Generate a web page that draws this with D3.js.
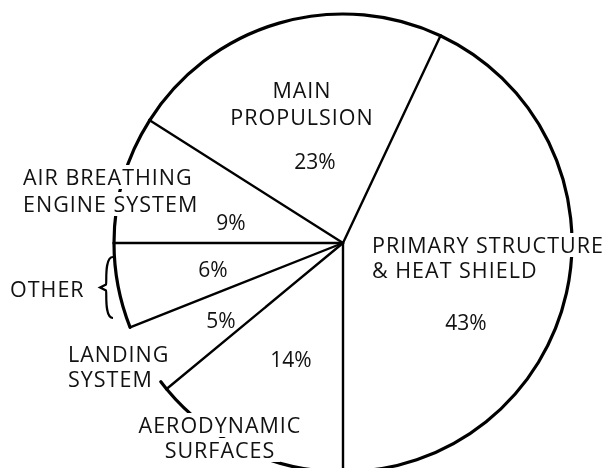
<!DOCTYPE html>
<html>
<head>
<meta charset="utf-8">
<script src="https://cdn.jsdelivr.net/npm/d3@7"></script>
<style>
  html, body { margin: 0; padding: 0; background: #fff; }
  svg { display: block; }
  text { font-family: "Open Sans", sans-serif; fill: #111; }
</style>
</head>
<body>
<div id="chart"></div>
<script>
// shares of the vehicle, going clockwise from the bottom of the pie
var categories = ["Aerodynamic Surfaces", "Landing System", "Other",
    "Air Breathing Engine System", "Main Propulsion", "Primary Structure & Heat Shield"];
var percents = [14, 5, 6, 9, 23, 43];
var nameLines = [
    ["AERODYNAMIC", "SURFACES"],
    ["LANDING", "SYSTEM"],
    ["OTHER"],
    ["AIR BREATHING", "ENGINE SYSTEM"],
    ["MAIN", "PROPULSION"],
    ["PRIMARY STRUCTURE", "& HEAT SHIELD"]
];

function init() {
    var w = 607;
    var h = 468;
    var cx = 343, cy = 243, r = 229;

    // where each label sits (hand placed like the original drawing)
    var nameLayout = [
        { x: 220, y: 433, anchor: "middle", lh: 25 },
        { x: 68, y: 362, anchor: "start", lh: 25 },
        { x: 10, y: 297, anchor: "start", lh: 25 },
        { x: 23, y: 185, anchor: "start", lh: 27 },
        { x: 302, y: 98, anchor: "middle", lh: 27 },
        { x: 372, y: 253, anchor: "start", lh: 25 }
    ];
    var pctLayout = [
        { x: 291, y: 367 }, { x: 221, y: 328 }, { x: 213, y: 277 },
        { x: 231, y: 230 }, { x: 315, y: 169 }, { x: 466, y: 330 }
    ];

    var pie = d3.pie()
        .sort(null)
        .value(function(d) { return d; })
        .startAngle(Math.PI)
        .endAngle(3 * Math.PI);
    var slices = pie(percents);

    var svg = d3.select("#chart")
        .append("svg")
        .attr("width", w)
        .attr("height", h);

    var mask = svg.append("defs").append("mask").attr("id", "gaps")
        .attr("maskUnits", "userSpaceOnUse")
        .attr("x", 0).attr("y", 0).attr("width", w).attr("height", h);
    mask.append("rect").attr("width", w).attr("height", h).attr("fill", "#fff");

    // outer rim, one arc per slice; the landing system rim is left open
    // in the original apart from a short stub at its lower edge
    var rimData = slices.map(function(d, i) {
        if (i === 1) return { startAngle: d.startAngle, endAngle: d.startAngle + 0.04 };
        return d;
    });
    var rim = d3.arc().innerRadius(r).outerRadius(r);
    svg.append("g")
        .attr("mask", "url(#gaps)")
        .selectAll("path")
        .data(rimData)
        .enter()
        .append("path")
        .attr("transform", "translate(" + cx + "," + cy + ")")
        .attr("d", rim)
        .attr("fill", "none")
        .attr("stroke", "#000")
        .attr("stroke-width", 3.2)
        .attr("stroke-linejoin", "round");

    var pieG = svg.append("g").attr("transform", "translate(" + cx + "," + cy + ")");

    // radial dividers
    pieG.selectAll("line.div")
        .data(slices)
        .enter()
        .append("line")
        .attr("class", "div")
        .attr("x1", 0).attr("y1", 0)
        .attr("x2", function(d) { return d3.pointRadial(d.startAngle, r)[0]; })
        .attr("y2", function(d) { return d3.pointRadial(d.startAngle, r)[1]; })
        .attr("stroke", "#000")
        .attr("stroke-width", 2.4)
        .attr("stroke-linecap", "round");

    // names, one text per line
    var lines = [];
    nameLines.forEach(function(ls, i) {
        ls.forEach(function(t, j) {
            lines.push({ t: t, x: nameLayout[i].x, y: nameLayout[i].y + j * nameLayout[i].lh, anchor: nameLayout[i].anchor });
        });
    });
    var names = svg.selectAll("text.name")
        .data(lines)
        .enter()
        .append("text")
        .attr("class", "name")
        .attr("x", function(d) { return d.x; })
        .attr("y", function(d) { return d.y; })
        .attr("text-anchor", function(d) { return d.anchor; })
        .style("font-size", "21.5px")
        .style("letter-spacing", "1px")
        .text(function(d) { return d.t; });

    // percentages
    svg.selectAll("text.pct")
        .data(percents)
        .enter()
        .append("text")
        .attr("class", "pct")
        .attr("x", function(d, i) { return pctLayout[i].x; })
        .attr("y", function(d, i) { return pctLayout[i].y; })
        .attr("text-anchor", "middle")
        .style("font-size", "21px")
        .text(function(d) { return d + "%"; });

    // cut the rim where the names run over it (cap height box plus a little air)
    names.each(function(d) {
        var b = this.getBBox();
        mask.append("rect")
            .attr("x", b.x - 5).attr("y", d.y - 20)
            .attr("width", b.width + 10).attr("height", 24)
            .attr("fill", "#000");
    });

    // brace grouping the "other" slice
    var bx = 113, by0 = 257, by1 = 318, bm = (by0 + by1) / 2;
    svg.append("path")
        .attr("d", "M" + bx + "," + by0 +
            " C" + (bx - 9) + "," + by0 + " " + (bx - 6) + "," + (bm - 4) + " " + (bx - 7) + "," + (bm - 3) +
            " L" + (bx - 13) + "," + bm +
            " L" + (bx - 7) + "," + (bm + 3) +
            " C" + (bx - 6) + "," + (bm + 4) + " " + (bx - 9) + "," + by1 + " " + bx + "," + by1)
        .attr("fill", "none")
        .attr("stroke", "#000")
        .attr("stroke-width", 2.2);
}

window.onload = init;
</script>
</body>
</html>
